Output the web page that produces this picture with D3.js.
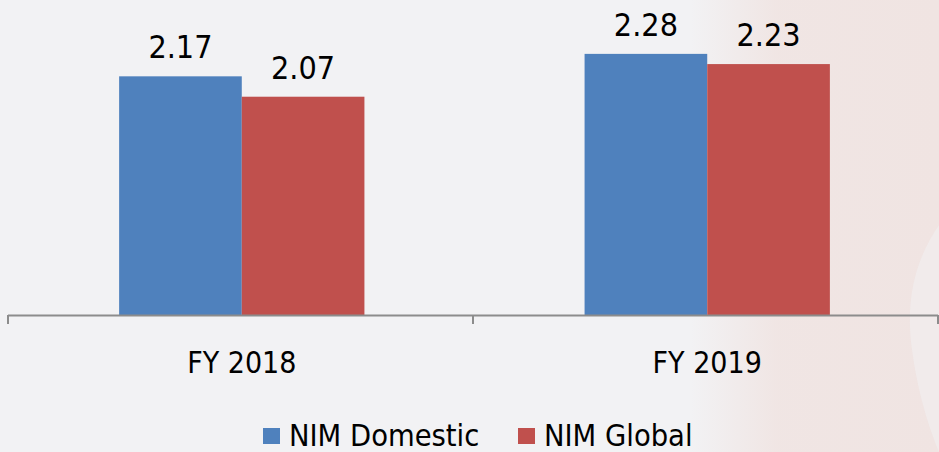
<!DOCTYPE html>
<html>
<head>
<meta charset="utf-8">
<script src="https://cdn.jsdelivr.net/npm/d3@7"></script>
<style>
  body { margin: 0; background: #f2f2f4; }
  svg { display: block; }
  text { font-family: "DejaVu Sans Condensed", "DejaVu Sans", sans-serif; font-stretch: condensed; fill: #000; }
</style>
</head>
<body>
<svg id="chart"></svg>
<script>
var years = ["FY 2018", "FY 2019"];
var series = ["NIM Domestic", "NIM Global"];
var nimDomestic = [2.17, 2.28];
var nimGlobal = [2.07, 2.23];
var colors = ["#4f81bd", "#c0504d"];

var chart = {};

function setup() {
    chart.size = {width: 939, height: 452};
    chart.svg = d3.select("#chart")
                  .attr("width", chart.size.width)
                  .attr("height", chart.size.height);

    // faint watermark on the right side
    var defs = chart.svg.append("defs");
    var grad = defs.append("linearGradient").attr("id", "wm")
                   .attr("x1", "0").attr("x2", "1").attr("y1", "0").attr("y2", "0");
    grad.append("stop").attr("offset", "0").attr("stop-color", "#f0e4e2").attr("stop-opacity", 0);
    grad.append("stop").attr("offset", "0.35").attr("stop-color", "#f0e4e2").attr("stop-opacity", 0.9);
    grad.append("stop").attr("offset", "1").attr("stop-color", "#f0e4e2").attr("stop-opacity", 1);
    chart.svg.append("rect")
        .attr("x", 690).attr("y", 0).attr("width", 249).attr("height", 452)
        .attr("fill", "url(#wm)");
    chart.svg.append("path")
        .attr("d", "M939,225 C915,260 905,300 912,350 C918,395 930,430 939,452 Z")
        .attr("fill", "#f2f2f4").attr("opacity", 0.5);

    var data = years.map((y, i) => ({year: y, values: [nimDomestic[i], nimGlobal[i]]}));

    var x0 = d3.scaleBand().domain(years).range([9, 940])
               .paddingInner(0.473).paddingOuter(0.2366);
    var x1 = d3.scaleBand().domain(series).range([0, x0.bandwidth()]);
    var y = d3.scaleLinear().domain([1, 2.5]).range([315, 9]);

    var groups = chart.svg.append("g").selectAll("g")
        .data(data).join("g")
        .attr("transform", d => `translate(${x0(d.year)},0)`);

    groups.selectAll("rect")
        .data(d => d.values.map((v, i) => ({key: series[i], value: v, i: i})))
        .join("rect")
        .attr("x", d => x1(d.key))
        .attr("y", d => y(d.value))
        .attr("width", x1.bandwidth())
        .attr("height", d => y(1) - y(d.value))
        .attr("fill", d => colors[d.i]);

    groups.selectAll("text")
        .data(d => d.values.map((v, i) => ({key: series[i], value: v})))
        .join("text")
        .attr("x", d => x1(d.key) + x1.bandwidth() / 2)
        .attr("y", d => y(d.value) - 18)
        .attr("text-anchor", "middle")
        .style("font-size", "32px")
        .text(d => d3.format(".2f")(d.value));

    // category axis with ticks at band boundaries
    var axis = chart.svg.append("g");
    axis.append("line")
        .attr("x1", 8).attr("x2", 938).attr("y1", 315.5).attr("y2", 315.5)
        .attr("stroke", "#8c8c8c").attr("stroke-width", 2);
    var edges = [8, 473, 938];
    axis.selectAll("line.tick").data(edges).join("line")
        .attr("class", "tick")
        .attr("x1", d => d).attr("x2", d => d)
        .attr("y1", 315).attr("y2", 324)
        .attr("stroke", "#8c8c8c").attr("stroke-width", 2);
    axis.selectAll("text").data(years).join("text")
        .attr("x", d => x0(d) + x0.bandwidth() / 2)
        .attr("y", 373)
        .attr("text-anchor", "middle")
        .style("font-size", "30px")
        .text(d => d);

    // legend
    var legend = chart.svg.append("g");
    var lx = [263, 518];
    series.forEach((s, i) => {
        legend.append("rect")
            .attr("x", lx[i]).attr("y", 428).attr("width", 17).attr("height", 16)
            .attr("fill", colors[i]);
        legend.append("text")
            .attr("x", lx[i] + 26).attr("y", 446)
            .style("font-size", "30.5px")
            .text(s);
    });
}

window.addEventListener("load", setup);
</script>
</body>
</html>
